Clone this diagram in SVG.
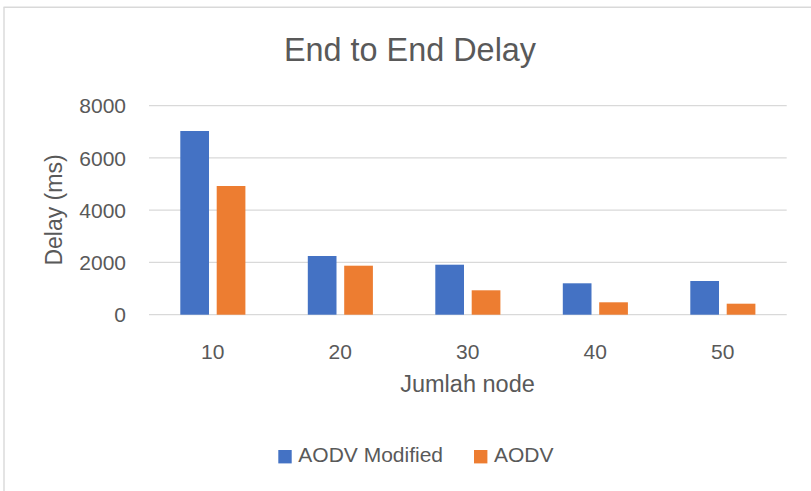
<svg xmlns="http://www.w3.org/2000/svg" width="811" height="491" viewBox="0 0 811 491">
<style>
.t{font-family:"Liberation Sans",Arial,sans-serif;fill:#595959}
.tick{font-size:21px;text-anchor:end}
.cat{font-size:21px;text-anchor:middle}
.grid{stroke:#D9D9D9;stroke-width:1.3}
.b{fill:#4472C4}
.o{fill:#ED7D31}
</style>
<rect x="0" y="0" width="811" height="491" fill="#FFFFFF"/>
<g id="frame" stroke="#D9D9D9" stroke-width="1.4">
<line x1="3.5" y1="7.3" x2="811" y2="7.3"/>
<line x1="4" y1="7.3" x2="4" y2="491"/>
</g>
<text id="title" class="t" x="410" y="61" font-size="32.4" text-anchor="middle">End to End Delay</text>
<g id="gridlines">
<line class="grid" x1="149" y1="105.7" x2="786.7" y2="105.7"/>
<line class="grid" x1="149" y1="157.95" x2="786.7" y2="157.95"/>
<line class="grid" x1="149" y1="210.2" x2="786.7" y2="210.2"/>
<line class="grid" x1="149" y1="262.45" x2="786.7" y2="262.45"/>
<line class="grid" x1="149" y1="314.7" x2="786.7" y2="314.7"/>
</g>
<g id="y-axis">
<text class="t tick" x="126" y="113.3">8000</text>
<text class="t tick" x="126" y="165.5">6000</text>
<text class="t tick" x="126" y="217.8">4000</text>
<text class="t tick" x="126" y="270">2000</text>
<text class="t tick" x="126" y="322.3">0</text>
<text class="t" font-size="23" text-anchor="middle" transform="translate(62 210) rotate(-90)">Delay (ms)</text>
</g>
<g id="bars">
<g id="g10"><rect class="b" x="180.3" y="131" width="28.7" height="183.7"/><rect class="o" x="216.7" y="186" width="28.7" height="128.7"/></g>
<g id="g20"><rect class="b" x="307.8" y="256" width="28.7" height="58.7"/><rect class="o" x="344.2" y="265.7" width="28.7" height="49"/></g>
<g id="g30"><rect class="b" x="435.3" y="264.7" width="28.7" height="50"/><rect class="o" x="471.7" y="290.3" width="28.7" height="24.4"/></g>
<g id="g40"><rect class="b" x="562.8" y="283.3" width="28.7" height="31.4"/><rect class="o" x="599.2" y="302.3" width="28.7" height="12.4"/></g>
<g id="g50"><rect class="b" x="690.3" y="281" width="28.7" height="33.7"/><rect class="o" x="726.7" y="303.7" width="28.7" height="11"/></g>
</g>
<g id="x-axis">
<text class="t cat" x="212.75" y="359">10</text>
<text class="t cat" x="340.25" y="359">20</text>
<text class="t cat" x="467.75" y="359">30</text>
<text class="t cat" x="595.25" y="359">40</text>
<text class="t cat" x="722.75" y="359">50</text>
<text class="t" font-size="23.5" text-anchor="middle" x="467.5" y="392">Jumlah node</text>
</g>
<g id="legend">
<rect class="b" x="278.3" y="450" width="13.4" height="13.4"/>
<text class="t" font-size="21" x="298.3" y="462.3">AODV Modified</text>
<rect class="o" x="474" y="450" width="13.4" height="13.4"/>
<text class="t" font-size="21" x="494" y="462.3">AODV</text>
</g>
</svg>
